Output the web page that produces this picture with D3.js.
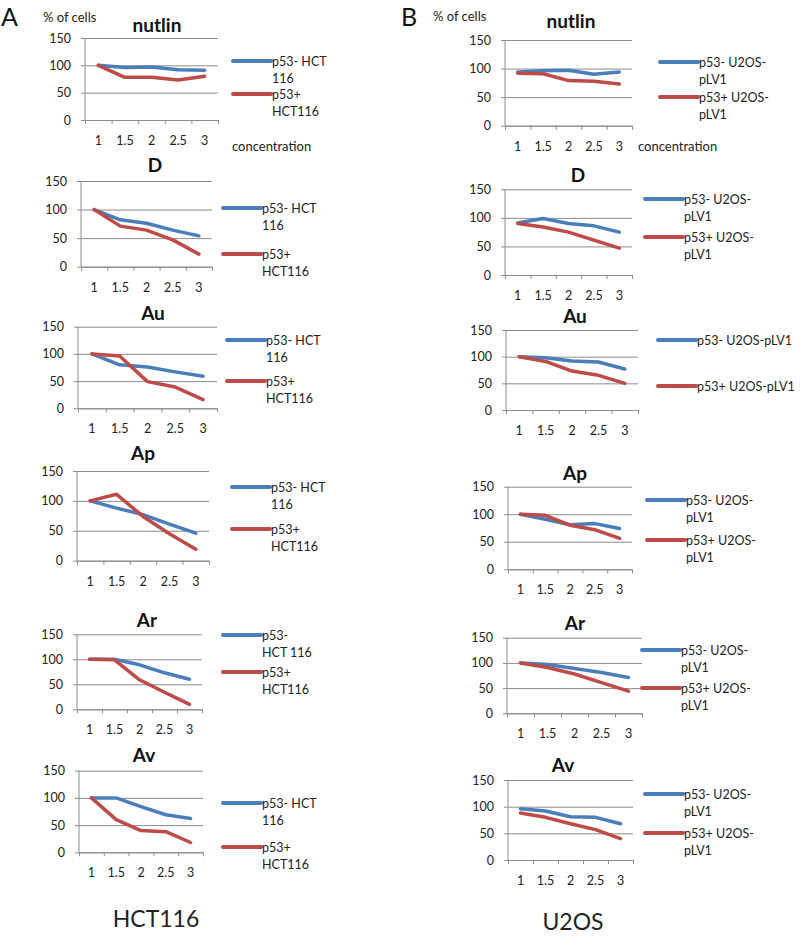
<!DOCTYPE html>
<html>
<head>
<meta charset="utf-8">
<script src="https://cdn.jsdelivr.net/npm/d3@7"></script>
<style>
  html, body { margin: 0; padding: 0; background: #fff; }
  svg { display: block; font-family: "Lato", "Open Sans", sans-serif; }
  .tick text { fill: #222; }
</style>
</head>
<body>
<svg id="chart" width="800" height="938"></svg>
<script>
// ---------- DATA ----------
const concentrations = ["1", "1.5", "2", "2.5", "3"];
const yTickValues = [0, 50, 100, 150];
const drugs = ["nutlin", "D", "Au", "Ap", "Ar", "Av"];

// HCT116 (panel A)
const hctNegNutlin = [100, 96, 97, 92, 91];
const hctPosNutlin = [100, 78, 78, 73, 80];
const hctNegD = [100, 82, 76, 64, 54];
const hctPosD = [100, 71, 64, 47, 22];
const hctNegAu = [100, 80, 76, 67, 59];
const hctPosAu = [100, 96, 49, 39, 16];
const hctNegAp = [100, 88, 77, 61, 46];
const hctPosAp = [100, 111, 74, 45, 19];
const hctNegAr = [100, 100, 89, 73, 60];
const hctPosAr = [100, 99, 59, 34, 10];
const hctNegAv = [100, 100, 84, 69, 62];
const hctPosAv = [100, 60, 40, 38, 18];

// U2OS (panel B)
const u2osNegNutlin = [94, 96, 97, 90, 94];
const u2osPosNutlin = [92, 91, 79, 78, 73];
const u2osNegD = [91, 99, 90, 86, 75];
const u2osPosD = [90, 84, 75, 61, 47];
const u2osNegAu = [100, 98, 92, 90, 77];
const u2osPosAu = [100, 91, 73, 65, 50];
const u2osNegAp = [100, 91, 81, 83, 74];
const u2osPosAp = [100, 98, 80, 72, 56];
const u2osNegAr = [100, 97, 89, 81, 71];
const u2osPosAr = [100, 91, 78, 61, 44];
const u2osNegAv = [96, 92, 81, 80, 68];
const u2osPosAv = [88, 80, 68, 57, 40];

// Legend labels (line breaks as in the figure)
const hctNegLabel = ["p53- HCT", "116"];
const hctNegLabelAr = ["p53-", "HCT 116"];
const hctPosLabel = ["p53+", "HCT116"];
const u2osNegLabel = ["p53- U2OS-", "pLV1"];
const u2osPosLabel = ["p53+ U2OS-", "pLV1"];
const u2osNegLabelAu = ["p53- U2OS-pLV1"];
const u2osPosLabelAu = ["p53+ U2OS-pLV1"];

const hctNeg = [hctNegNutlin, hctNegD, hctNegAu, hctNegAp, hctNegAr, hctNegAv];
const hctPos = [hctPosNutlin, hctPosD, hctPosAu, hctPosAp, hctPosAr, hctPosAv];
const u2osNeg = [u2osNegNutlin, u2osNegD, u2osNegAu, u2osNegAp, u2osNegAr, u2osNegAv];
const u2osPos = [u2osPosNutlin, u2osPosD, u2osPosAu, u2osPosAp, u2osPosAr, u2osPosAv];

const hctNegLabels = [hctNegLabel, hctNegLabel, hctNegLabel, hctNegLabel, hctNegLabelAr, hctNegLabel];
const hctPosLabels = [hctPosLabel, hctPosLabel, hctPosLabel, hctPosLabel, hctPosLabel, hctPosLabel];
const u2osNegLabels = [u2osNegLabel, u2osNegLabel, u2osNegLabelAu, u2osNegLabel, u2osNegLabel, u2osNegLabel];
const u2osPosLabels = [u2osPosLabel, u2osPosLabel, u2osPosLabelAu, u2osPosLabel, u2osPosLabel, u2osPosLabel];

// ---------- LAYOUT ----------
const BLUE = "#4a7ebb", RED = "#be4b48", GRID = "#8c8c8c";
// x0,x1: plot left/right; yt: y of 150, yb: y of 0; tx,ty: title; lx: legend x; lb, lr: legend line y
const layoutA = [
  {x0: 85, x1: 218, yt: 38,    yb: 120,   tx: 157, ty: 32,  lx: 233, lb: 61,  lr: 94},
  {x0: 81, x1: 212, yt: 181,   yb: 266.7, tx: 155, ty: 172, lx: 223, lb: 208, lr: 254},
  {x0: 78, x1: 217, yt: 326.7, yb: 408.3, tx: 153, ty: 320, lx: 227, lb: 340, lr: 381},
  {x0: 77, x1: 209, yt: 471,   yb: 560.7, tx: 143, ty: 460, lx: 232, lb: 487, lr: 529},
  {x0: 77, x1: 202, yt: 634.3, yb: 709.3, tx: 147, ty: 627, lx: 223, lb: 635, lr: 672},
  {x0: 79, x1: 203, yt: 770.7, yb: 852.3, tx: 144, ty: 762, lx: 223, lb: 803, lr: 847}
];
const layoutB = [
  {x0: 505, x1: 632, yt: 40,    yb: 125.7, tx: 571, ty: 28,  lx: 660, lb: 62,  lr: 97},
  {x0: 505, x1: 632, yt: 189.3, yb: 275,   tx: 578, ty: 182, lx: 645, lb: 199, lr: 237},
  {x0: 506, x1: 638, yt: 330,   yb: 410,   tx: 575, ty: 323, lx: 658, lb: 340, lr: 386},
  {x0: 508, x1: 632, yt: 486.7, yb: 569.3, tx: 575, ty: 480, lx: 647, lb: 500, lr: 540},
  {x0: 507, x1: 642, yt: 637.7, yb: 713.3, tx: 575, ty: 630, lx: 642, lb: 650, lr: 688},
  {x0: 508, x1: 633, yt: 780,   yb: 860,   tx: 563, ty: 772, lx: 645, lb: 794, lr: 833}
];

const svg = d3.select("#chart");

function drawPanel(L, title, negVals, posVals, negLabel, posLabel) {
  const g = svg.append("g");
  const x = d3.scaleBand().domain(concentrations).range([L.x0, L.x1]).padding(0);
  const xEdge = d3.scaleLinear().domain([0, concentrations.length]).range([L.x0, L.x1]);
  const y = d3.scaleLinear().domain([0, 150]).range([L.yb, L.yt]);
  const w = L.x1 - L.x0;

  // gridlines + y labels
  const ya = g.append("g").attr("transform", `translate(${L.x0},0)`)
    .call(d3.axisLeft(y).tickValues(yTickValues).tickSizeInner(-w).tickSizeOuter(0).tickPadding(14));
  ya.select(".domain").remove();
  ya.selectAll(".tick line").attr("stroke", GRID).attr("stroke-width", 1);
  ya.selectAll(".tick text").attr("font-size", 12.5).attr("font-family", "Lato, 'Open Sans', sans-serif");
  // small outside ticks on y axis
  const yt = g.append("g").attr("transform", `translate(${L.x0},0)`)
    .call(d3.axisLeft(y).tickValues(yTickValues).tickSize(4).tickFormat(""));
  yt.select(".domain").attr("stroke", GRID).attr("d", `M0,${L.yb}V${L.yt}`);
  yt.selectAll(".tick line").attr("stroke", GRID);

  // x axis: labels at band centres, ticks at band edges
  const xa = g.append("g").attr("transform", `translate(0,${L.yb})`)
    .call(d3.axisBottom(x).tickSize(0).tickPadding(16));
  xa.select(".domain").remove();
  xa.selectAll(".tick text").attr("font-size", 12.5).attr("font-family", "Lato, 'Open Sans', sans-serif");
  const xe = g.append("g").attr("transform", `translate(0,${L.yb})`)
    .call(d3.axisBottom(xEdge).tickValues(d3.range(concentrations.length + 1)).tickSize(4).tickSizeOuter(0).tickFormat(""));
  xe.select(".domain").attr("stroke", GRID);
  xe.selectAll(".tick line").attr("stroke", GRID);

  // lines
  const line = d3.line()
    .x((d, i) => x(concentrations[i]) + x.bandwidth() / 2)
    .y(d => y(d));
  g.append("path").datum(negVals).attr("d", line)
    .attr("fill", "none").attr("stroke", BLUE).attr("stroke-width", 3.5)
    .attr("stroke-linejoin", "round").attr("stroke-linecap", "round");
  g.append("path").datum(posVals).attr("d", line)
    .attr("fill", "none").attr("stroke", RED).attr("stroke-width", 3.5)
    .attr("stroke-linejoin", "round").attr("stroke-linecap", "round");

  // title
  g.append("text").attr("x", L.tx).attr("y", L.ty).attr("text-anchor", "middle")
    .attr("font-size", 19).attr("font-weight", "bold").attr("fill", "#111").text(title);

  // legend
  const items = [{c: BLUE, ly: L.lb, lab: negLabel}, {c: RED, ly: L.lr, lab: posLabel}];
  items.forEach(it => {
    g.append("line").attr("x1", L.lx).attr("x2", L.lx + 38).attr("y1", it.ly).attr("y2", it.ly)
      .attr("stroke", it.c).attr("stroke-width", 4).attr("stroke-linecap", "round");
    const t = g.append("text").attr("x", L.lx + 39).attr("y", it.ly + 4.5)
      .attr("font-size", 12.5).attr("fill", "#222");
    it.lab.forEach((s, k) => {
      t.append("tspan").attr("x", L.lx + 39).attr("dy", k === 0 ? 0 : 17).text(s);
    });
  });
}

drugs.forEach((d, i) => {
  drawPanel(layoutA[i], d, hctNeg[i], hctPos[i], hctNegLabels[i], hctPosLabels[i]);
  drawPanel(layoutB[i], d, u2osNeg[i], u2osPos[i], u2osNegLabels[i], u2osPosLabels[i]);
});

// panel letters and axis captions
svg.append("text").attr("x", 1).attr("y", 26).attr("font-size", 25).attr("fill", "#111").text("A");
svg.append("text").attr("x", 401).attr("y", 26).attr("font-size", 25).attr("fill", "#111").text("B");
svg.append("text").attr("x", 43).attr("y", 22).attr("font-size", 13).attr("fill", "#222").text("% of cells");
svg.append("text").attr("x", 433).attr("y", 21).attr("font-size", 13).attr("fill", "#222").text("% of cells");
svg.append("text").attr("x", 232).attr("y", 151).attr("font-size", 13).attr("fill", "#222").text("concentration");
svg.append("text").attr("x", 638).attr("y", 151).attr("font-size", 13).attr("fill", "#222").text("concentration");
svg.append("text").attr("x", 156).attr("y", 927).attr("text-anchor", "middle").attr("font-size", 23).attr("fill", "#222").text("HCT116");
svg.append("text").attr("x", 573).attr("y", 930).attr("text-anchor", "middle").attr("font-size", 23).attr("fill", "#222").text("U2OS");
</script>
</body>
</html>
